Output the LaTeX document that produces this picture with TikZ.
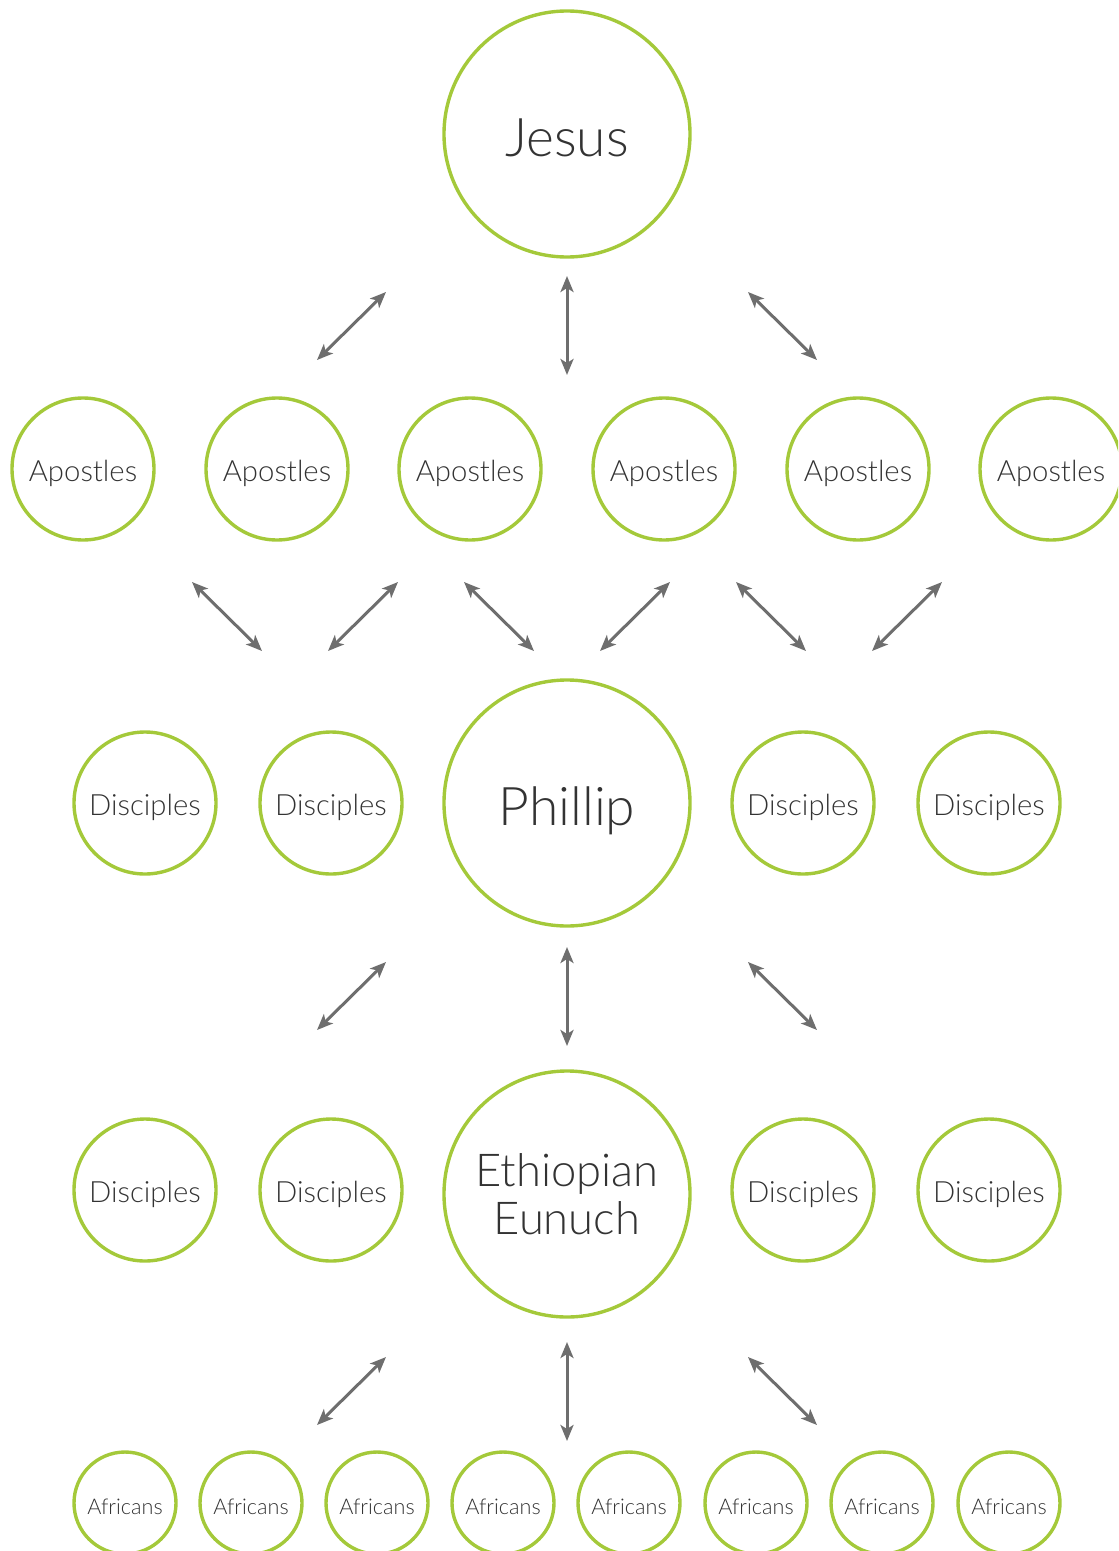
\documentclass[tikz,border=0pt]{standalone}
\usepackage{fontspec}
\setmainfont{Lato Light}
\usetikzlibrary{arrows.meta}
\definecolor{ring}{HTML}{A4C93A}
\definecolor{arr}{HTML}{6E6E6E}
\definecolor{txt}{HTML}{333333}
\tikzset{
  ringc/.style={circle,draw=ring,line width=3.4bp,inner sep=0pt,text=txt,text depth=0pt},
  bigc/.style={ringc,minimum size=246bp,text height=45bp,font=\fontsize{53.5}{56}\selectfont},
  midc/.style={ringc,minimum size=142bp,text height=25bp,font=\fontsize{29.4}{31}\selectfont},
  smallc/.style={ringc,minimum size=102bp,text height=22bp,font=\fontsize{21.7}{23}\selectfont},
  dbl/.style={draw=arr,line width=3bp,{Stealth[length=16bp,width=13bp,inset=4bp]}-{Stealth[length=16bp,width=13bp,inset=4bp]}},
}
\begin{document}
\begin{tikzpicture}[x=1bp,y=-1bp]
\useasboundingbox (0,0) rectangle (1118,1551);
\clip (0,0) rectangle (1118,1551);
% big nodes
\node[bigc] (jesus) at (567,134) {Jesus};
\node[bigc] (phillip) at (567,803) {Phillip};
\node[ringc,minimum size=246bp,text depth=,align=center,font=\fontsize{45.5}{48}\selectfont] (eunuch) at (567,1194) {Ethiopian\\Eunuch};
% apostles
\foreach \x [count=\i] in {83,277,470,664,858,1051}
  \node[midc] (ap\i) at (\x,469) {Apostles};
% disciples
\foreach \x [count=\i] in {145,331,803,989}{
  \node[midc] (da\i) at (\x,803) {Disciples};
  \node[midc] (db\i) at (\x,1190) {Disciples};
}
% africans
\foreach \x [count=\i] in {125,251,377,503,629,756,882,1009}
  \node[smallc] (af\i) at (\x,1503) {Africans};
% arrow end coordinates
\coordinate (a1s) at (317,360); \coordinate (a1e) at (386,292);
\coordinate (a2s) at (567,276); \coordinate (a2e) at (567,375);
\coordinate (a3s) at (748,292); \coordinate (a3e) at (817,360);
\coordinate (b1s) at (192,582); \coordinate (b1e) at (262,651);
\coordinate (b2s) at (328,651); \coordinate (b2e) at (398,582);
\coordinate (b3s) at (464,582); \coordinate (b3e) at (534,651);
\coordinate (b4s) at (600,651); \coordinate (b4e) at (670,582);
\coordinate (b5s) at (736,582); \coordinate (b5e) at (806,651);
\coordinate (b6s) at (872,651); \coordinate (b6e) at (942,582);
\coordinate (c1s) at (317,1030); \coordinate (c1e) at (386,962);
\coordinate (c2s) at (567,947); \coordinate (c2e) at (567,1046);
\coordinate (c3s) at (748,962); \coordinate (c3e) at (817,1030);
\coordinate (d1s) at (317,1425); \coordinate (d1e) at (386,1357);
\coordinate (d2s) at (567,1342); \coordinate (d2e) at (567,1441);
\coordinate (d3s) at (748,1357); \coordinate (d3e) at (817,1425);
\foreach \n in {a1,a2,a3,b1,b2,b3,b4,b5,b6,c1,c2,c3,d1,d2,d3}
  \draw[dbl] (\n s) -- (\n e);
\end{tikzpicture}
\end{document}
